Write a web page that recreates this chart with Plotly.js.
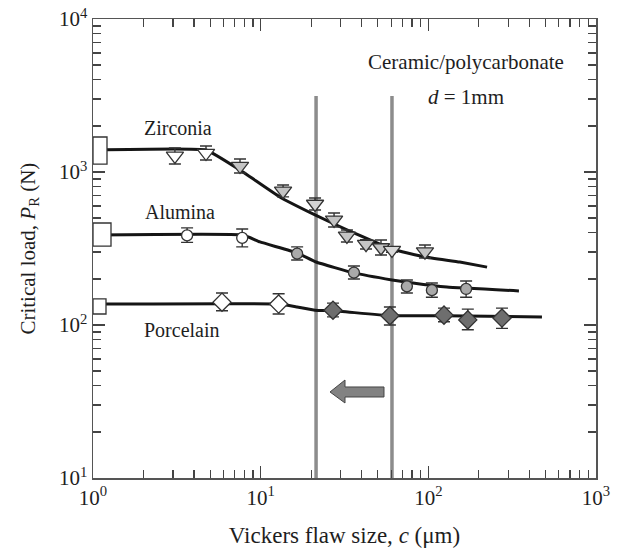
<!DOCTYPE html>
<html>
<head>
<meta charset="utf-8">
<script src="https://cdn.plot.ly/plotly-3.0.1.min.js"></script>
<style>html,body{margin:0;padding:0;background:#fff;}#chart{width:621px;height:550px;}</style>
</head>
<body>
<div id="chart"></div>
<script>
// ---------- data ----------
// Zirconia (inverted triangles)
const zrX = [3.08, 4.72, 7.53, 13.6, 21.1, 27.4, 32.7, 42.5, 52.2, 60.7, 95.5];
const zrY = [1273, 1330, 1094, 752, 618, 486, 382, 338, 321, 309, 302];
const zrErrPlus = [162, 149, 122, 70, 58, 53, 36, 23, 38, 10, 31];
const zrErrMinus = [146, 133, 110, 64, 53, 49, 33, 24, 34, 10, 28];
const zrFill = ['#ffffff', '#ffffff', '#c4c4c4', '#c4c4c4', '#d4d4d4', '#c4c4c4', '#c4c4c4', '#c4c4c4', '#c4c4c4', '#d8d8d8', '#c4c4c4'];
const zrCurveX = [1, 4.72, 7.53, 13.0, 21.1, 32.7, 60.7, 95.5, 154, 224];
const zrCurveY = [1393, 1393, 1030, 687, 524, 418, 314, 278, 258, 239];

// Alumina (circles)
const alX = [3.64, 7.76, 16.5, 36.0, 74.5, 105, 168];
const alY = [385, 371, 293, 220, 179, 169, 172];
const alErrPlus = [46, 53, 31, 23, 18, 19, 22];
const alErrMinus = [38, 47, 27, 20, 17, 17, 20];
const alFill = ['#ffffff', '#ffffff', '#a9a9a9', '#a9a9a9', '#a9a9a9', '#a9a9a9', '#a9a9a9'];
const alCurveX = [1, 7.84, 9.9, 16.5, 21.4, 36.0, 60.7, 80.9, 129, 347];
const alCurveY = [387, 387, 349, 296, 258, 219, 197, 188, 177, 167];

// Porcelain (diamonds)
const poX = [5.88, 12.8, 27.0, 59.0, 124, 172, 275];
const poY = [141, 137, 125, 115, 116, 108, 111];
const poErrPlus = [21, 23, 14, 16, 13, 19, 18];
const poErrMinus = [17, 19, 12, 15, 11, 15, 16];
const poFill = ['#ffffff', '#ffffff', '#6e6e6e', '#6e6e6e', '#6e6e6e', '#6e6e6e', '#6e6e6e'];
const poCurveX = [1, 12.8, 16.5, 21.1, 27.0, 59.0, 124, 476];
const poCurveY = [137, 137, 131, 125, 124, 115, 115, 113];

// Unflawed strength boxes at c = 1 (low, high)
const boxNames = ['Zirconia', 'Alumina', 'Porcelain'];
const boxLow = [1127, 328, 118];
const boxHigh = [1694, 464, 148];
const boxWidthPx = [14, 18, 13];

// Vertical reference lines
const vLineX = [21.4, 60.7];
const vLineTop = 3140;

// Axis ticks
const xTickVals = [1, 10, 100, 1000];
const xTickText = ['10<sup>0</sup>', '10<sup>1</sup>', '10<sup>2</sup>', '10<sup>3</sup>'];
const yTickVals = [10, 100, 1000, 10000];
const yTickText = ['10<sup>1</sup>', '10<sup>2</sup>', '10<sup>3</sup>', '10<sup>4</sup>'];

// ---------- drawing ----------
const serif = 'Liberation Serif, Times New Roman, serif';
const ink = '#1e1e1e';

function minorVals(lo, hi) {
  const v = [];
  for (let d = lo; d < hi; d++) {
    for (let k = 2; k <= 9; k++) v.push(k * Math.pow(10, d));
  }
  return v;
}

function curve(x, y) {
  return {x: x, y: y, type: 'scatter', mode: 'lines', hoverinfo: 'skip',
    line: {color: '#151515', width: 3, shape: 'spline', smoothing: 0.3}, showlegend: false};
}
function points(x, y, ep, em, sym, size, fill) {
  return {x: x, y: y, type: 'scatter', mode: 'markers', showlegend: false,
    marker: {symbol: sym, size: size, color: fill, line: {color: '#333', width: 1.3}},
    error_y: {type: 'data', symmetric: false, array: ep, arrayminus: em,
      color: '#333', thickness: 1.4, width: 6}};
}

const traces = [
  curve(zrCurveX, zrCurveY),
  curve(alCurveX, alCurveY),
  curve(poCurveX, poCurveY),
  points(zrX, zrY, zrErrPlus, zrErrMinus, 'triangle-down', 15, zrFill),
  points(alX, alY, alErrPlus, alErrMinus, 'circle', 11, alFill),
  points(poX, poY, poErrPlus, poErrMinus, 'diamond', 14, poFill)
];

const shapes = [];
vLineX.forEach(function (vx) {
  shapes.push({type: 'line', xref: 'x', yref: 'y', x0: vx, x1: vx, y0: 10, y1: vLineTop,
    line: {color: '#8c8c8c', width: 3.5}, layer: 'below'});
});
boxNames.forEach(function (n, i) {
  shapes.push({type: 'rect', xref: 'x', yref: 'y', xsizemode: 'pixel', xanchor: 1,
    x0: 0, x1: boxWidthPx[i], y0: boxLow[i], y1: boxHigh[i],
    fillcolor: '#ffffff', line: {color: '#333', width: 1.3}, layer: 'above'});
});
// block arrow pointing left (paper coordinates)
shapes.push({type: 'path', xref: 'paper', yref: 'paper',
  path: 'M 0.4712 0.1874 L 0.5010 0.2135 L 0.5010 0.1983 L 0.5785 0.1983 L 0.5785 0.1765 L 0.5010 0.1765 L 0.5010 0.1634 Z',
  fillcolor: '#828282', line: {color: '#454545', width: 1}});

function label(text, x, y, size, angle) {
  return {text: text, xref: 'paper', yref: 'paper', x: x, y: y, showarrow: false,
    textangle: angle || 0,
    xanchor: 'center', yanchor: 'middle', font: {family: serif, size: size, color: ink}};
}
const annotations = [
  label('Zirconia', 0.169, 0.7625, 20),
  label('Alumina', 0.173, 0.5795, 20),
  label('Porcelain', 0.177, 0.3224, 20),
  label('Ceramic/polycarbonate', 0.7416, 0.9063, 21),
  label('<i>d</i> = 1mm', 0.7416, 0.830, 21),
  // y-axis title
  label('Critical load, <i>P</i><sub>R</sub> (N)', -0.128, 0.499, 21, -90)
];

function axis(range, vals, text, minor, title) {
  const a = {
    type: 'log', range: range, tickmode: 'array', tickvals: vals, ticktext: text,
    showline: true, linecolor: '#555', linewidth: 1.5, mirror: 'allticks',
    ticks: 'inside', ticklen: 12, tickwidth: 1.3, tickcolor: '#444',
    showgrid: false, zeroline: false,
    tickfont: {family: serif, size: 21, color: ink},
    minor: {tickmode: 'array', tickvals: minor, ticks: 'inside', ticklen: 8, tickwidth: 1.2, tickcolor: '#444', showgrid: false},
    automargin: false
  };
  if (title) a.title = title;
  return a;
}

const layout = {
  width: 621, height: 550,
  margin: {l: 93, r: 25, t: 19, b: 72, pad: 0},
  paper_bgcolor: '#ffffff', plot_bgcolor: '#ffffff',
  showlegend: false,
  xaxis: axis([0, 3], xTickVals, xTickText, minorVals(0, 3),
    {text: 'Vickers flaw size, <i>c</i> (μm)', font: {family: serif, size: 23, color: ink}, standoff: 18}),
  yaxis: axis([1, 4], yTickVals, yTickText, minorVals(1, 4), null),
  shapes: shapes,
  annotations: annotations
};

Plotly.newPlot('chart', traces, layout, {displayModeBar: false, staticPlot: true});
</script>
</body>
</html>
